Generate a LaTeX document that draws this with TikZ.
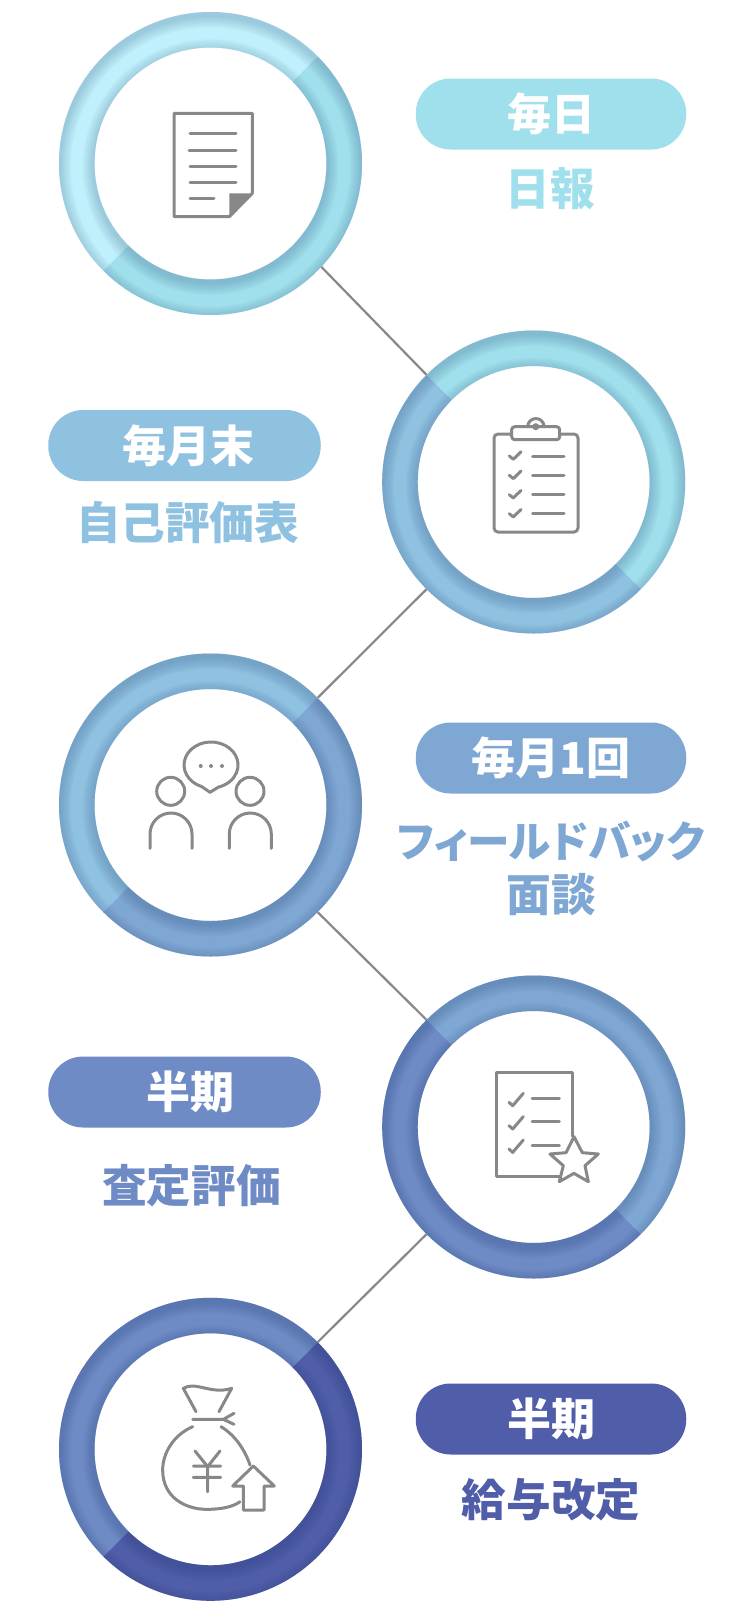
\documentclass[tikz,border=0pt]{standalone}
\usepackage{fontspec}
\setmainfont{Noto Sans CJK JP}
\newfontfamily\kanapalt[RawFeature=+palt]{Noto Sans CJK JP}
\usetikzlibrary{calc}
\definecolor{ca}{HTML}{BFF0FB}
\definecolor{cb}{HTML}{A0DFEC}
\definecolor{cc}{HTML}{8FC1E0}
\definecolor{cd}{HTML}{7FA7D3}
\definecolor{ce}{HTML}{6F8BC6}
\definecolor{cf}{HTML}{505DA8}
\definecolor{icongrey}{HTML}{888888}
\definecolor{shadowbase}{HTML}{0F3068}
\tikzset{
  x=1pt,y=-1pt,
  pill/.style={rectangle,rounded corners=35pt,minimum width=270.5pt,minimum height=71pt,inner sep=0pt,text=white,font=\fontsize{44}{44}\selectfont\bfseries},
  lab/.style={inner sep=0pt,align=center,font=\fontsize{44.6}{54}\selectfont\bfseries},
  anchorcircle/.style={circle,minimum size=303pt,inner sep=0pt},
  linkline/.style={draw=icongrey,line width=2.2pt},
  ic/.style={draw=icongrey,line width=3pt,line cap=round,line join=round},
}
% half ring: centre x, centre y, start angle, colour
\newcommand{\ringhalf}[4]{%
  \begin{scope}[shift={(#1,#2)},y=1pt]
    \fill[#4] (#3:151.5) arc[start angle=#3,end angle=#3+180,radius=151.5]
      -- (#3+180:116) arc[start angle=#3+180,end angle=#3,radius=116] -- cycle;
    \begin{scope}
      \clip (#3:151.5) arc[start angle=#3,end angle=#3+180,radius=151.5]
        -- (#3+180:116) arc[start angle=#3+180,end angle=#3,radius=116] -- cycle;
      \foreach \e in {1,2,3,4,5,6,7,8,9,10,11,12}{
        \fill[even odd rule,#4!50!shadowbase,opacity=.036] (-200,-200) rectangle (200,200)
          (0,-3.5) circle[radius=151.5-\e] (0,-3.5) circle[radius=116+\e];
      }
    \end{scope}
  \end{scope}}
\begin{document}
\begin{tikzpicture}
\useasboundingbox (0,0) rectangle (734,1618);
\fill[white] (0,0) rectangle (734,1618);
% rings
\ringhalf{210.5}{163.5}{45}{ca}\ringhalf{210.5}{163.5}{225}{cb}
\ringhalf{533.7}{482}{-45}{cb}\ringhalf{533.7}{482}{135}{cc}
\ringhalf{210.5}{805}{45}{cc}\ringhalf{210.5}{805}{225}{cd}
\ringhalf{533.7}{1127}{-45}{cd}\ringhalf{533.7}{1127}{135}{ce}
\ringhalf{210.5}{1449.3}{45}{ce}\ringhalf{210.5}{1449.3}{225}{cf}
\node[anchorcircle] (c1) at (210.5,163.5) {};
\node[anchorcircle] (c2) at (533.7,482) {};
\node[anchorcircle] (c3) at (210.5,805) {};
\node[anchorcircle] (c4) at (533.7,1127) {};
\node[anchorcircle] (c5) at (210.5,1449.3) {};
\draw[linkline] (c1.-43) -- (c2.135);
\draw[linkline] (c2.-135) -- (c3.45);
\draw[linkline] (c3.-45) -- (c4.135);
\draw[linkline] (c4.-135) -- (c5.45);
% pills
\node[pill,fill=cb] (p1) at (551,114) {毎日};
\node[pill,fill=cc,minimum width=272.5pt] (p2) at (184.5,445.5) {\hspace{8.5pt}毎月末};
\node[pill,fill=cd] (p3) at (551,758) {毎月1回};
\node[pill,fill=ce,minimum width=272.5pt] (p4) at (184.5,1092) {\hspace{12.4pt}半期};
\node[pill,fill=cf] (p5) at (551,1419) {半期};
% labels
\node[lab,text=cb] (t1) at (550,189) {日報};
\node[lab,text=cc] (t2) at (187.5,523) {自己評価表};
\node[lab,text=cd] (t3) at (551,868) {{\kanapalt\fontsize{42.6}{54}\selectfont フィールドバック}\\面談};
\node[lab,text=ce] (t4) at (191.5,1186) {査定評価};
\node[lab,text=cf] (t5) at (551,1500) {給与改定};
% icon 1
\draw[ic] (174,113.3) -- (252.3,113.3) -- (252.3,193.3) -- (229.3,216.7) -- (174,216.7) -- cycle;
\fill[icongrey] (229.3,193.3) -- (252.3,193.3) -- (229.3,216.7) -- cycle;
\draw[ic] (190,133.3) -- (236,133.3) (189,150) -- (236,150) (190,166) -- (236,166) (190,182.3) -- (236,182.3) (190,198.7) -- (214,198.7);
% icon 2
\draw[ic] (511.7,434) -- (498,434) arc[start angle=270,end angle=180,radius=4] -- (494,528) arc[start angle=180,end angle=90,radius=4] -- (574,532) arc[start angle=90,end angle=0,radius=4] -- (578,438) arc[start angle=0,end angle=-90,radius=4] -- (559.7,434);
\draw[ic,rounded corners=3pt] (511.7,426.7) rectangle (559.7,439.7);
\draw[ic] (527.7,426.7) arc[start angle=180,end angle=360,radius=8.2];
\fill[icongrey] (535.8,426.7) circle[radius=3.5];
\foreach \d in {0,19.3,38.7,57.7}{
  \draw[ic] (509.3,456+\d) -- (513.3,459.3+\d) -- (521,451.7+\d);
  \draw[ic] (532.7,456+\d) -- (564,456+\d);
}
% icon 3
\draw[ic] (201.8,786.6) arc[start angle=110,end angle=434,x radius=27,y radius=23] -- (210,792.3) -- cycle;
\foreach \x in {200.7,211,222} {\fill[icongrey] (\x,766) circle[radius=2];}
\draw[ic] (170.7,791.3) circle[radius=14];
\draw[ic] (250,791.3) circle[radius=14];
\draw[ic] (150,848.3) -- (150,834) arc[start angle=180,end angle=360,radius=21] -- (192,848.3);
\draw[ic] (229.3,848.3) -- (229.3,834) arc[start angle=180,end angle=360,radius=21] -- (271.3,848.3);
% icon 4
\draw[ic] (572,1136) -- (572,1072.7) -- (496.7,1072.7) -- (496.7,1176.7) -- (560,1176.7);
\foreach \d/\e in {0/0,23.3/23,46.7/46.3}{
  \draw[ic] (509,1102.3+\d) -- (512.7,1105.7+\d) -- (523.3,1093.3+\d);
  \draw[ic] (532,1098.7+\e) -- (559.3,1098.7+\e);
}
\begin{scope}[shift={(470,1050)},x=.33333pt,y=-.33333pt]
\draw[ic] (312,260) -- (337,308) -- (385,312) -- (345,347) -- (355,395) -- (312,370) -- (268,395) -- (280,347) -- (240,312) -- (288,308) -- cycle;
\end{scope}
% icon 5
\begin{scope}[shift={(140,1370)},x=.33333pt,y=-.33333pt]
\draw[ic] (168,125) -- (130,55) .. controls (165,32) and (215,75) .. (275,55) -- (237,125);
\draw[ic] (158,148) -- (250,148) (282,130) -- (250,148) -- (282,163);
\draw[ic] (158,170) .. controls (100,195) and (68,250) .. (68,300) .. controls (68,385) and (140,418) .. (200,418) .. controls (245,418) and (280,410) .. (300,395);
\draw[ic] (243,170) .. controls (285,195) and (315,240) .. (330,285);
\draw[ic] (165,243) -- (203,290) -- (240,243) (203,290) -- (203,365) (160,288) -- (242,288) (160,322) -- (242,322);
\draw[ic] (340,288) -- (403,348) -- (372,348) -- (372,420) -- (310,420) -- (310,348) -- (278,348) -- cycle;
\end{scope}
\end{tikzpicture}
\end{document}
